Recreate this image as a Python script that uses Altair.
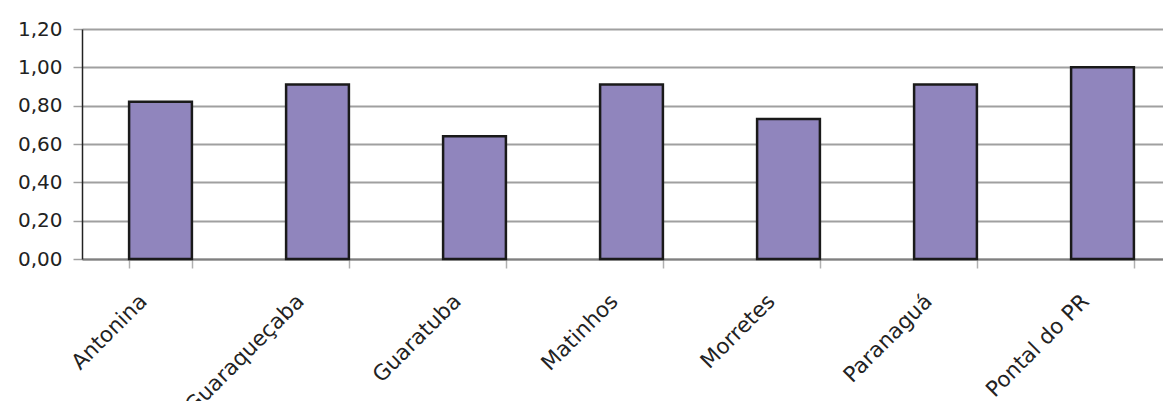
import altair as alt
import pandas as pd

cities = ["Antonina", "Guaraqueçaba", "Guaratuba", "Matinhos", "Morretes", "Paranaguá", "Pontal do PR"]
values = [0.82, 0.91, 0.64, 0.91, 0.73, 0.91, 1.00]
y_ticks = [0.0, 0.2, 0.4, 0.6, 0.8, 1.0, 1.2]

df = pd.DataFrame({"city": cities, "value": values})

FONT = "DejaVu Sans"

chart = alt.Chart(df).mark_bar(
    color="#9085bd", stroke="#1a1a1a", strokeWidth=2.5
).encode(
    x=alt.X("city:N", sort=cities, title=None,
            scale=alt.Scale(paddingInner=0.6, paddingOuter=0.3),
            axis=alt.Axis(labelAngle=-45, labelAlign="right", labelBaseline="middle",
                          labelFontSize=21.5, labelFont=FONT, labelColor="#222222",
                          labelPadding=30, labelOffset=-17, tickBand="extent", tickSize=9,
                          tickColor="#b0b0b0", tickWidth=1.5,
                          domainColor="#808080", domainWidth=2, grid=False)),
    y=alt.Y("value:Q", title=None,
            scale=alt.Scale(domain=[0, 1.2], nice=False),
            axis=alt.Axis(values=y_ticks,
                          labelExpr="replace(format(datum.value, '.2f'), '.', ',')",
                          labelFontSize=20, labelFont=FONT, labelColor="#222222",
                          labelPadding=11, tickSize=9, tickColor="#a0a0a0", tickWidth=1.5,
                          domainColor="#222222", domainWidth=1.5,
                          grid=True, gridColor="#a0a0a0", gridWidth=2))
).properties(
    width=1099, height=230, padding={"left": 9, "top": 11, "right": -18, "bottom": 0}
).configure_view(
    fill="#d9d9d9", stroke=None
).configure(background="white")

chart.save("out.html", embed_options={"renderer": "svg", "actions": False})
